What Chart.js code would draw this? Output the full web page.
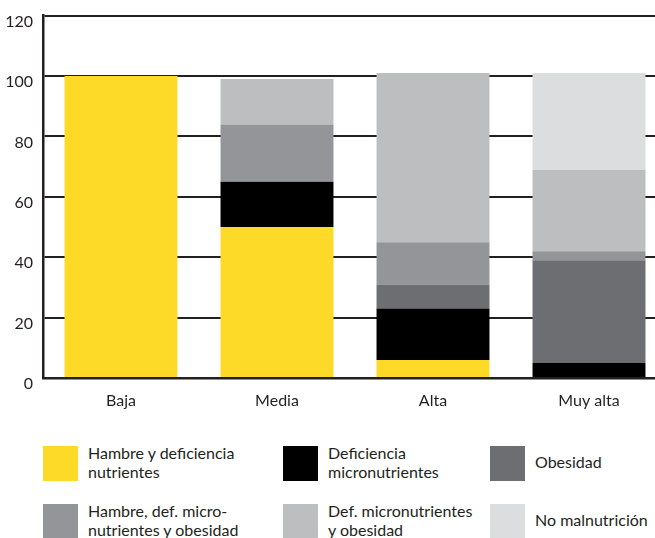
<!DOCTYPE html>
<html>
<head>
<meta charset="utf-8">
<script src="https://cdn.jsdelivr.net/npm/chart.js@4"></script>
<style>
  html, body { margin:0; padding:0; width:655px; height:538px; overflow:hidden; background:#fff; font-family:Lato, sans-serif; color:#231F20; }
  #wrap { position:absolute; left:0; top:0; width:667px; height:420px; }
  .lg { position:absolute; display:flex; align-items:center; height:35px; }
  .sw { width:35px; height:35px; flex:none; }
  .tx { font-size:16px; line-height:19px; margin-left:10px; white-space:nowrap; position:relative; top:-2px; }
</style>
</head>
<body>
<div id="wrap"><canvas id="c" width="667" height="420"></canvas></div>
<div id="legend"></div>
<script>
const categories = ["Baja", "Media", "Alta", "Muy alta"];
const seriesNames = [
  "Hambre y deficiencia<br>nutrientes",
  "Deficiencia<br>micronutrientes",
  "Obesidad",
  "Hambre, def. micro-<br>nutrientes y obesidad",
  "Def. micronutrientes<br>y obesidad",
  "No malnutrición"
];
const hambreDef = [100, 50, 6, 0];
const defMicro = [0, 15, 17, 5];
const obesidad = [0, 0, 8, 34];
const hambreDefObes = [0, 19, 14, 3];
const defMicroObes = [0, 15, 56, 27];
const noMalnutricion = [0, 0, 0, 32];
const yTicks = [0, 20, 40, 60, 80, 100, 120];
const colors = ["#FDD928", "#000000", "#6D6E71", "#939598", "#BCBEC0", "#DCDDDE"];

const seriesData = [hambreDef, defMicro, obesidad, hambreDefObes, defMicroObes, noMalnutricion];

new Chart(document.getElementById('c'), {
  type: 'bar',
  data: {
    labels: categories,
    datasets: seriesData.map((d, i) => ({
      label: seriesNames[i].replace('<br>', ' '),
      data: d,
      backgroundColor: colors[i],
      borderWidth: 0,
      barPercentage: 0.724,
      categoryPercentage: 1
    }))
  },
  options: {
    responsive: false,
    animation: false,
    layout: { padding: { top: 15.7, right: 0, left: 0, bottom: 0 } },
    plugins: { legend: { display: false }, tooltip: { enabled: false } },
    scales: {
      x: {
        stacked: true,
        grid: { display: false, drawTicks: false },
        border: { display: true, color: '#231F20', width: 2.5 },
        ticks: { font: { family: 'Lato', size: 16 }, color: '#231F20', padding: 13 },
        afterFit: s => { s.height = 42; s.paddingLeft = 0; s.paddingRight = 0; }
      },
      y: {
        stacked: true,
        min: 0, max: 120,
        afterBuildTicks: s => { s.ticks = yTicks.map(v => ({ value: v })); },
        grid: { color: '#231F20', lineWidth: 2, drawTicks: false },
        border: { display: true, color: '#231F20', width: 2.5 },
        ticks: { font: { family: 'Lato', size: 16 }, color: '#231F20', padding: 10, labelOffset: 6 },
        afterFit: s => { s.width = 43; s.paddingTop = 0; s.paddingBottom = 0; }
      }
    }
  }
});

const pos = [[43, 446], [283, 446], [490, 446], [43, 504], [283, 504], [490, 504]];
const lg = document.getElementById('legend');
seriesNames.forEach((n, i) => {
  const d = document.createElement('div');
  d.className = 'lg';
  d.style.left = pos[i][0] + 'px';
  d.style.top = pos[i][1] + 'px';
  d.innerHTML = '<div class="sw" style="background:' + colors[i] + '"></div><div class="tx">' + n + '</div>';
  lg.appendChild(d);
});
</script>
</body>
</html>
